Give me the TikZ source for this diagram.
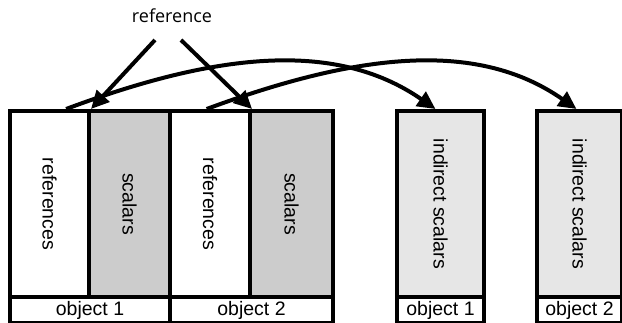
\documentclass[tikz,border=0pt]{standalone}
\usepackage{fontspec}
\setmainfont{Liberation Sans}
\newfontfamily\labelfont{Open Sans}
\usetikzlibrary{arrows.meta,calc}
\definecolor{scalarcol}{HTML}{CCCCCC}
\definecolor{indircol}{HTML}{E6E6E6}
\tikzset{
  part/.style = {draw, line width=4pt, minimum height=186pt, inner sep=0pt, anchor=north west},
  tag/.style = {draw, line width=4pt, minimum height=26pt, inner sep=0pt, anchor=north west, font=\fontsize{19.5}{19.5}\selectfont},
  vtext/.style = {rotate=-90, font=\fontsize{19.5}{19.5}\selectfont},
  ptr/.style = {line width=4pt, -{Triangle[length=18pt,width=17pt]}}
}
\begin{document}
\begin{tikzpicture}[x=1pt, y=-1pt]
\useasboundingbox (0,0) rectangle (622,323);
% object 1 and object 2
\node[part, fill=white, minimum width=79pt] (refs1) at (8,109) {};
\node[vtext] at (refs1.center) {references};
\node[part, fill=scalarcol, minimum width=81pt] (scal1) at (87,109) {};
\node[vtext] at (scal1.center) {scalars};
\node[part, fill=white, minimum width=80pt] (refs2) at (168,109) {};
\node[vtext] at (refs2.center) {references};
\node[part, fill=scalarcol, minimum width=83pt] (scal2) at (248,109) {};
\node[vtext] at (scal2.center) {scalars};
\node[tag, fill=white, minimum width=160pt] (obj1) at (8,295) {object 1};
\node[tag, fill=white, minimum width=163pt] (obj2) at (168,295) {object 2};
% indirect parts
\node[part, fill=indircol, minimum width=87pt] (ind1) at (395,109) {};
\node[vtext] at (ind1.center) {indirect scalars};
\node[part, fill=indircol, minimum width=85pt] (ind2) at (535,109) {};
\node[vtext] at (ind2.center) {indirect scalars};
\node[tag, fill=white, minimum width=87pt] (iobj1) at (395,295) {object 1};
\node[tag, fill=white, minimum width=85pt] (iobj2) at (535,295) {object 2};
% pointers
\node[font=\labelfont\fontsize{18}{18}\selectfont] (ref) at (172,16) {reference};
\coordinate (refl) at (155,40);
\coordinate (refr) at (181,40);
\draw[ptr] (refl) -- (refs1.north east);
\draw[ptr] (refr) -- (refs2.north east);
\coordinate (src1) at ($(refs1.north west)!0.7!(refs1.north east)$);
\coordinate (src2) at ($(refs2.north west)!0.46!(refs2.north east)$);
\draw[ptr] (src1) .. controls (211,55) and (333,38) .. ([xshift=-5pt]ind1.north);
\draw[ptr] (src2) .. controls (353,55) and (475,38) .. ([xshift=-3pt]ind2.north);
\end{tikzpicture}
\end{document}
